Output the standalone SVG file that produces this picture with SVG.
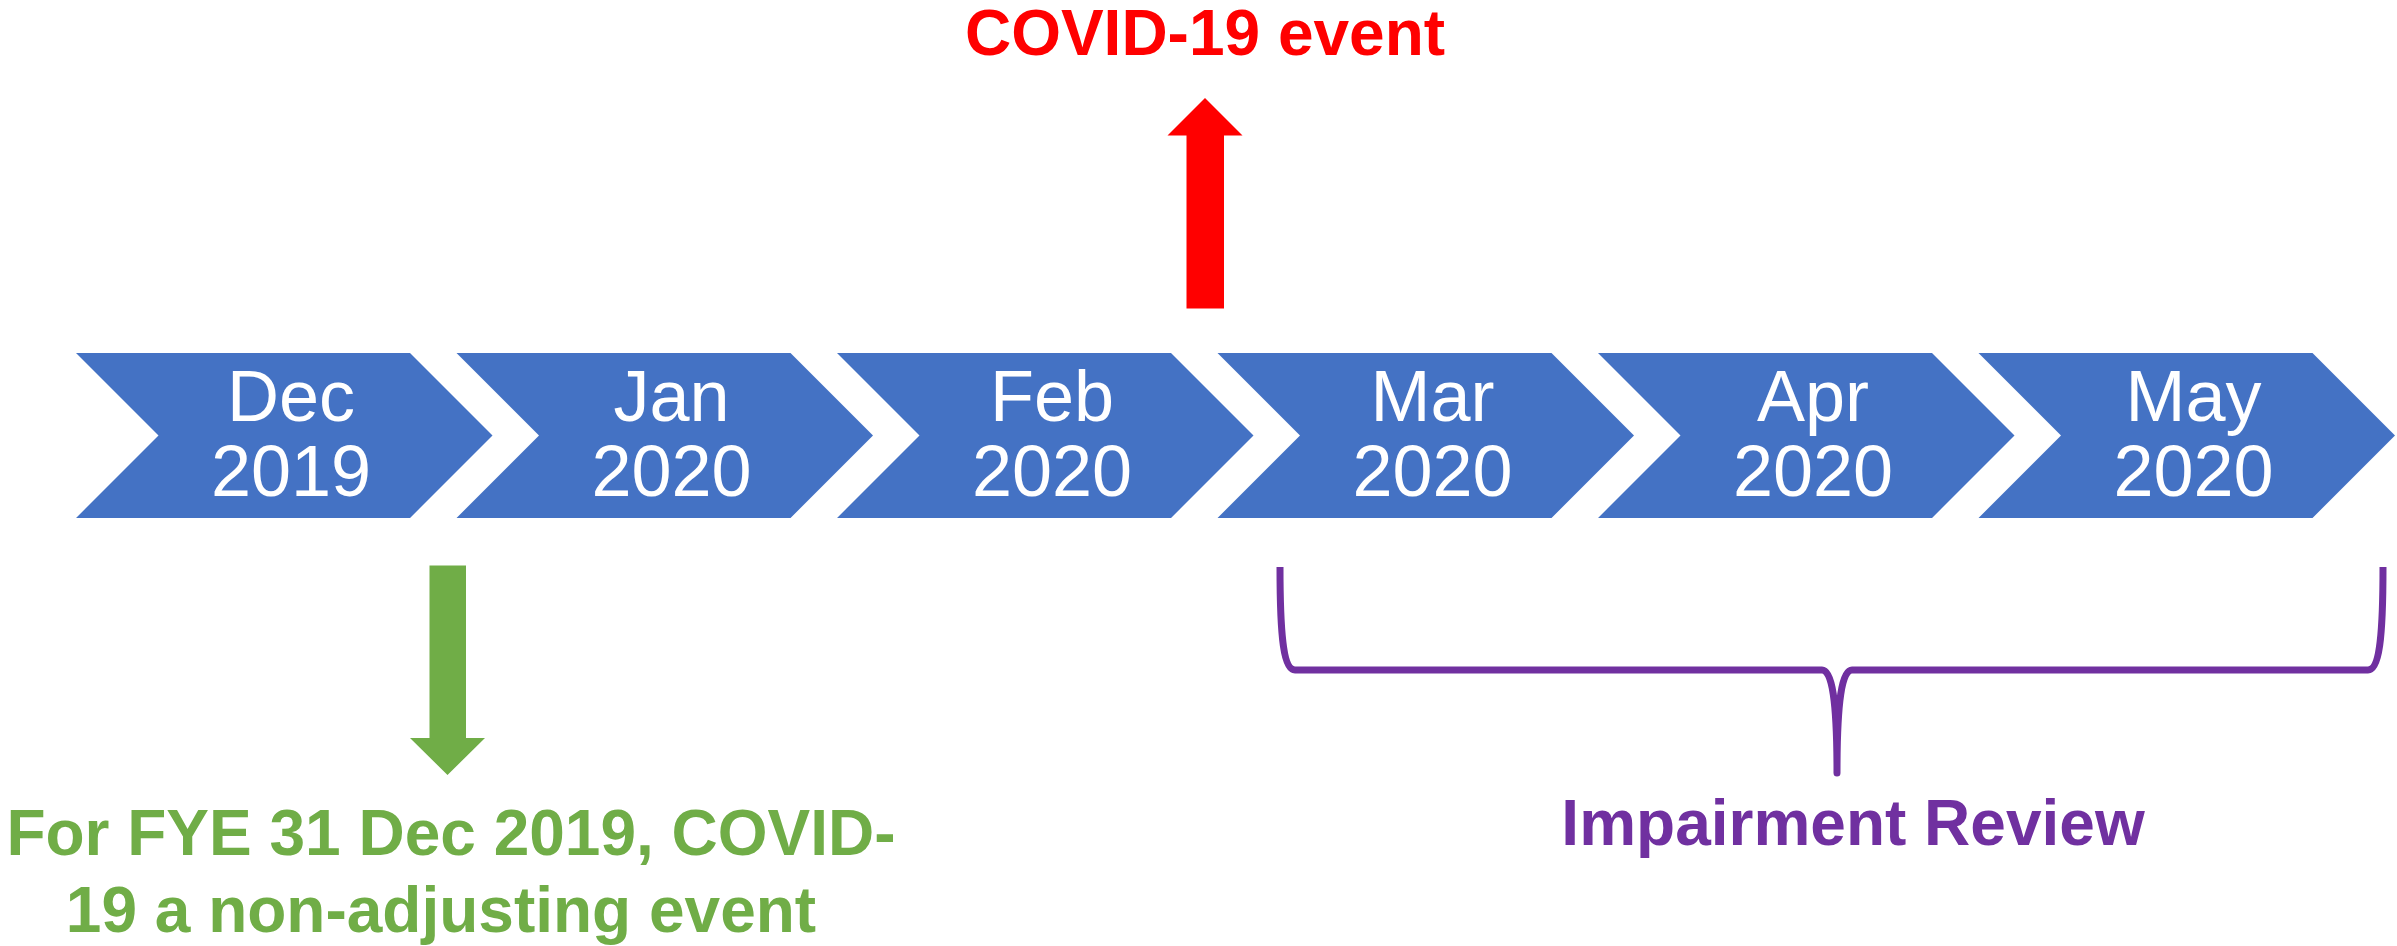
<svg xmlns="http://www.w3.org/2000/svg" width="2397" height="946" viewBox="0 0 2397 946">
<style>
.chev{fill:#4472C4;}
.mt{font-family:"Liberation Sans",Arial,sans-serif;font-size:72px;fill:#FFFFFF;text-anchor:middle;}
.lbl{font-family:"Liberation Sans",Arial,sans-serif;font-size:64px;font-weight:bold;text-anchor:middle;}
</style>
<defs>
<polygon id="chevshape" points="0,353 334,353 416.5,435.5 334,518 0,518 82.5,435.5"/>
</defs>
<rect width="2397" height="946" fill="#FFFFFF"/>
<g id="dec2019" transform="translate(76,0)">
<use href="#chevshape" class="chev"/>
<text class="mt" x="215" y="421">Dec</text>
<text class="mt" x="215" y="496">2019</text>
</g>
<g id="jan2020" transform="translate(456.5,0)">
<use href="#chevshape" class="chev"/>
<text class="mt" x="215" y="421">Jan</text>
<text class="mt" x="215" y="496">2020</text>
</g>
<g id="feb2020" transform="translate(837,0)">
<use href="#chevshape" class="chev"/>
<text class="mt" x="215" y="421">Feb</text>
<text class="mt" x="215" y="496">2020</text>
</g>
<g id="mar2020" transform="translate(1217.5,0)">
<use href="#chevshape" class="chev"/>
<text class="mt" x="215" y="421">Mar</text>
<text class="mt" x="215" y="496">2020</text>
</g>
<g id="apr2020" transform="translate(1598,0)">
<use href="#chevshape" class="chev"/>
<text class="mt" x="215" y="421">Apr</text>
<text class="mt" x="215" y="496">2020</text>
</g>
<g id="may2020" transform="translate(1978.5,0)">
<use href="#chevshape" class="chev"/>
<text class="mt" x="215" y="421">May</text>
<text class="mt" x="215" y="496">2020</text>
</g>
<g id="connectors">
<polygon id="covid-arrow" fill="#FF0000" points="1205,98 1242.5,135.5 1224,135.5 1224,308.5 1186.5,308.5 1186.5,135.5 1167.5,135.5"/>
<polygon id="fye-arrow" fill="#70AD47" points="429.5,565.5 466,565.5 466,738 485,738 447.5,775 410,738 429.5,738"/>
<path id="brace" fill="none" stroke="#7030A0" stroke-width="7" stroke-linejoin="round" d="M1280,567 C1280,640 1284,670 1295,670 L1822,670 C1832,670 1837,700 1837,773 C1837,700 1842,670 1852,670 L2368,670 C2379,670 2383,640 2383,567"/>
</g>
<g id="covid-label">
<text class="lbl" x="1205" y="55" fill="#FF0000">COVID-19 event</text>
</g>
<g id="fye-label">
<text class="lbl" x="451" y="855" fill="#70AD47">For FYE 31 Dec 2019, COVID-</text>
<text class="lbl" x="441" y="932" fill="#70AD47">19 a non-adjusting event</text>
</g>
<g id="impairment-label">
<text class="lbl" x="1853" y="845" fill="#7030A0">Impairment Review</text>
</g>
</svg>
